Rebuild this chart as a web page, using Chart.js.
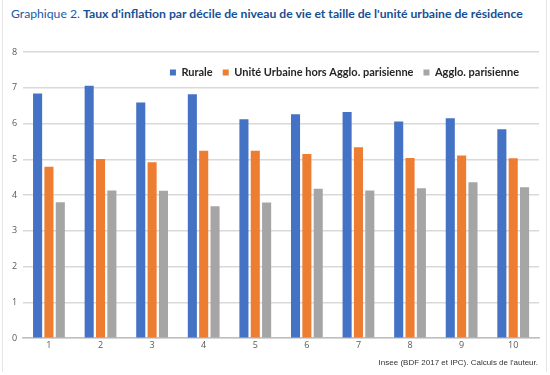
<!DOCTYPE html>
<html>
<head>
<meta charset="utf-8">
<script src="https://cdn.jsdelivr.net/npm/chart.js@4"></script>
<style>
  html, body { margin: 0; padding: 0; background: #fff; }
  #box { position: relative; width: 550px; height: 375px; overflow: hidden; }
  #frame { position: absolute; left: 2px; top: 0; width: 543px; height: 372px; border-left: 1px solid #e6e6e6; border-right: 1px solid #e6e6e6; }
  #titre { position: absolute; left: 11px; top: 6px; font-family: Lato, sans-serif; font-size: 12.2px; color: #1b5aa6; white-space: nowrap; }
  #titre b { font-weight: 700; color: #164f96; }
  #source { position: absolute; right: 12px; top: 358px; font-family: "Liberation Sans", sans-serif; font-size: 8px; color: #333; }
  #cv { position: absolute; left: 0; top: 0; }
</style>
</head>
<body>
<div id="box">
  <div id="frame"></div>
  <div id="titre">Graphique 2. <b>Taux d'inflation par décile de niveau de vie et taille de l'unité urbaine de résidence</b></div>
  <canvas id="cv" width="550" height="375"></canvas>
  <div id="source">Insee (BDF 2017 et IPC). Calculs de l'auteur.</div>
</div>
<script>
var deciles = ['1','2','3','4','5','6','7','8','9','10'];
var rurale = [6.84, 7.06, 6.59, 6.82, 6.12, 6.26, 6.32, 6.06, 6.15, 5.84];
var uniteUrbaine = [4.79, 5.01, 4.92, 5.24, 5.24, 5.15, 5.34, 5.04, 5.11, 5.03];
var aggloParis = [3.80, 4.13, 4.12, 3.69, 3.79, 4.18, 4.13, 4.19, 4.36, 4.22];

// legende posee dans la zone du graphique, sans lui prendre de place
var legendeDedans = {
    id: 'legendeDedans',
    beforeInit: function(chart) {
        var lg = chart.legend;
        var fit = lg.fit;
        lg.fit = function() { fit.call(this); this.height = 0; };
    },
    afterLayout: function(chart) {
        var lg = chart.legend;
        lg.left += 72;
        lg.right += 72;
        lg.top = chart.chartArea.top + 5;
        lg.bottom = lg.top + 30;
        lg.height = 30;
    }
};

var commun = {
    borderWidth: 0,
    categoryPercentage: 0.66,
    barPercentage: 0.8
};

var ctx = document.getElementById('cv').getContext('2d');
var graphique = new Chart(ctx, {
    type: 'bar',
    data: {
        labels: deciles,
        datasets: [
            Object.assign({ label: 'Rurale', data: rurale, backgroundColor: '#4472C4' }, commun),
            Object.assign({ label: 'Unité Urbaine hors Agglo. parisienne', data: uniteUrbaine, backgroundColor: '#ED7D31' }, commun),
            Object.assign({ label: 'Agglo. parisienne', data: aggloParis, backgroundColor: '#A5A5A5' }, commun)
        ]
    },
    options: {
        responsive: false,
        animation: false,
        layout: { padding: { top: 52, left: 6, right: 11, bottom: 22 } },
        plugins: {
            tooltip: { enabled: false },
            legend: {
                position: 'top',
                labels: {
                    boxWidth: 6,
                    boxHeight: 6,
                    padding: 10,
                    color: '#262626',
                    font: { family: 'Lato', size: 11, weight: 'bold' }
                }
            }
        },
        scales: {
            x: {
                grid: { display: false, drawTicks: false, tickLength: 0 },
                border: { color: '#bfbfbf', width: 1.5 },
                ticks: { color: '#595959', font: { family: 'Open Sans', size: 9 }, padding: 2 }
            },
            y: {
                min: 0,
                max: 8,
                ticks: { stepSize: 1, color: '#595959', font: { family: 'Open Sans', size: 9 }, padding: 6 },
                grid: { color: '#d9d9d9', lineWidth: 1.5, tickLength: 0 },
                border: { display: false }
            }
        }
    },
    plugins: [legendeDedans]
});
</script>
</body>
</html>
